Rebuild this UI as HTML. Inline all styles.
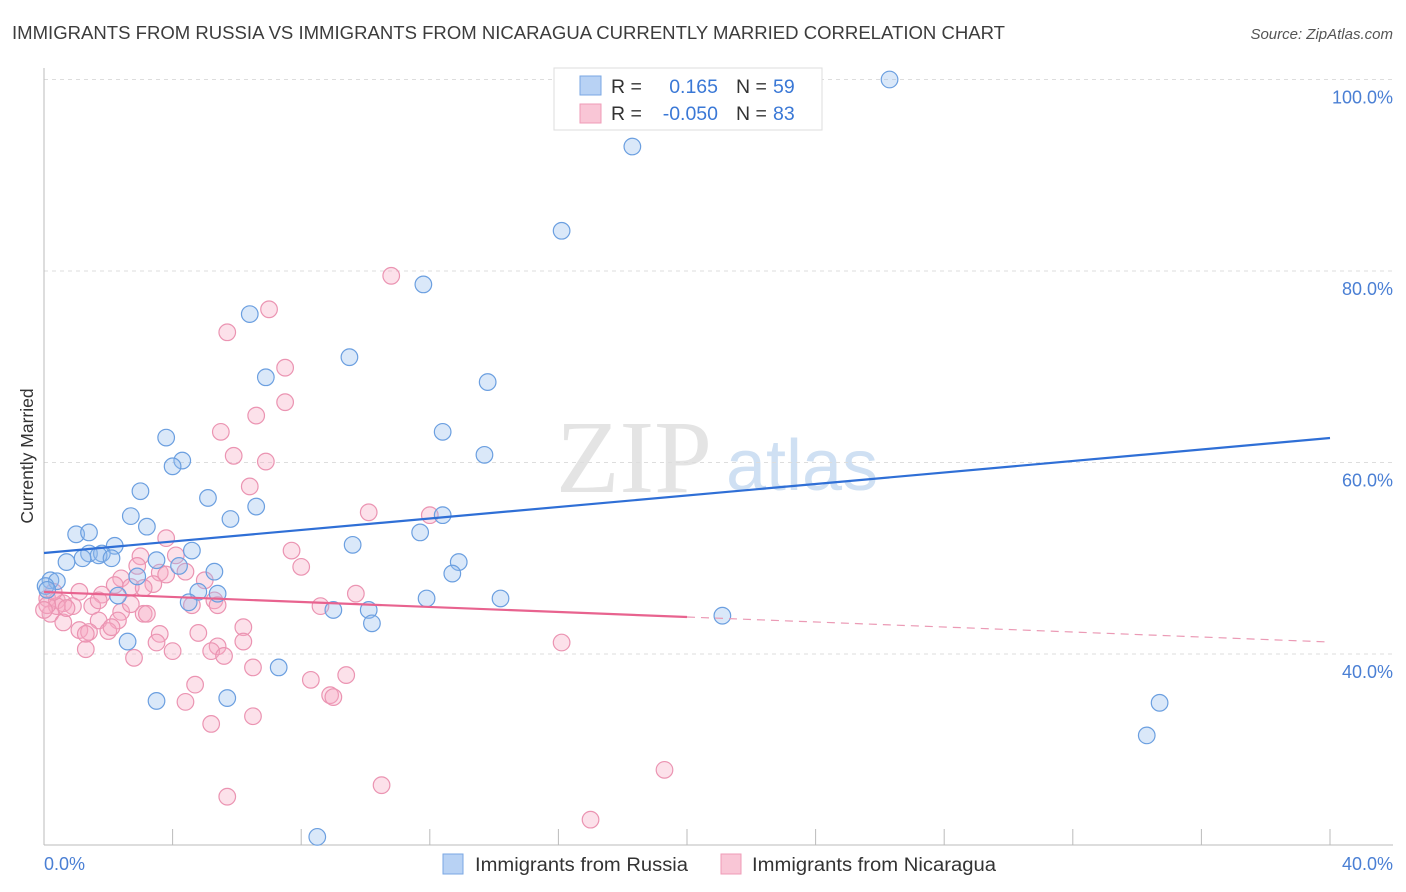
<!DOCTYPE html>
<html><head><meta charset="utf-8"><style>
body{margin:0;background:#fff;font-family:"Liberation Sans",sans-serif}
svg{display:block}
</style></head><body>
<svg id="chart" width="1406" height="892" xmlns="http://www.w3.org/2000/svg">
<text x="12" y="39" font-size="18.6" fill="#3c3c3c" textLength="993" lengthAdjust="spacingAndGlyphs">IMMIGRANTS FROM RUSSIA VS IMMIGRANTS FROM NICARAGUA CURRENTLY MARRIED CORRELATION CHART</text>
<text x="1393" y="39" font-size="15" font-style="italic" fill="#555" text-anchor="end">Source: ZipAtlas.com</text>
<g>
<text x="634" y="492" font-size="104" font-family="Liberation Serif,serif" fill="#e4e4e4" text-anchor="middle">ZIP</text>
<text x="802" y="490" font-size="72" fill="#cfe0f3" text-anchor="middle">atlas</text>
</g>
<g id="grid"></g>
<line x1="44" y1="68" x2="44" y2="845" stroke="#bbb"/>
<line x1="44" y1="845" x2="1393" y2="845" stroke="#bbb"/>
<g id="xticks"></g>
<text transform="translate(33,456) rotate(-90)" font-size="17.5" fill="#333" text-anchor="middle">Currently Married</text>
<text x="44" y="870" font-size="18" fill="#4a7fd4">0.0%</text>
<text x="1393" y="870" font-size="18" fill="#4a7fd4" text-anchor="end">40.0%</text>
<g id="pinkpts"></g>
<g id="bluepts"></g>
<g id="lines"></g>
<g>
<rect x="554" y="68" width="268" height="62" fill="#fff" stroke="#ddd"/>
<rect x="580" y="76" width="21" height="19" fill="#b8d2f4" stroke="#7aa7e3"/>
<rect x="580" y="104" width="21" height="19" fill="#f9c6d6" stroke="#ef9bb7"/>
<text x="611" y="93" font-size="19.5" fill="#333">R =</text>
<text x="718" y="93" font-size="19.5" fill="#3a78d6" text-anchor="end">0.165</text>
<text x="736" y="93" font-size="19.5" fill="#333">N =</text>
<text x="773" y="93" font-size="19.5" fill="#3a78d6">59</text>
<text x="611" y="120" font-size="19.5" fill="#333">R =</text>
<text x="718" y="120" font-size="19.5" fill="#3a78d6" text-anchor="end">-0.050</text>
<text x="736" y="120" font-size="19.5" fill="#333">N =</text>
<text x="773" y="120" font-size="19.5" fill="#3a78d6">83</text>
</g>
<g>
<rect x="443" y="854" width="20" height="20" fill="#b8d2f4" stroke="#7aa7e3"/>
<text x="475" y="871" font-size="19" fill="#333" textLength="213" lengthAdjust="spacingAndGlyphs">Immigrants from Russia</text>
<rect x="721" y="854" width="20" height="20" fill="#f9c6d6" stroke="#ef9bb7"/>
<text x="752" y="871" font-size="19" fill="#333" textLength="244" lengthAdjust="spacingAndGlyphs">Immigrants from Nicaragua</text>
</g>
</svg>
<script>
const yTicks=[40,60,80,100];
const xTickVals=[0,4,8,12,16,20,24,28,32,36,40];
const blueX=[26.3,18.3,16.1,11.8,6.4,9.5,6.9,13.8,12.4,3.8,13.7,4.3,4.0,3.0,5.1,6.6,2.7,5.8,12.4,3.2,1.0,1.4,11.7,9.6,2.2,1.4,1.8,4.6,1.7,2.1,1.2,0.7,3.5,12.9,12.7,2.9,5.3,4.2,0.2,0.4,0.05,0.1,4.8,5.4,2.3,4.5,11.9,14.2,9.0,10.1,21.1,10.2,2.6,7.3,3.5,5.7,34.7,34.3,8.5];
const blueY=[100,93.0,84.2,78.6,75.5,71.0,68.9,68.4,63.2,62.6,60.8,60.2,59.6,57.0,56.3,55.4,54.4,54.1,54.5,53.3,52.5,52.7,52.7,51.4,51.3,50.5,50.5,50.8,50.3,50.0,50.0,49.6,49.8,49.6,48.4,48.1,48.6,49.2,47.7,47.6,47.1,46.7,46.5,46.3,46.1,45.4,45.8,45.8,44.6,44.6,44.0,43.2,41.3,38.6,35.1,35.4,34.9,31.5,20.9];
const pinkX=[10.8,7.0,5.7,7.5,7.5,6.6,5.5,5.9,6.9,6.4,10.1,12.0,3.8,7.7,3.0,4.1,8.0,2.4,3.6,2.9,4.4,5.0,3.4,2.2,2.7,3.1,1.1,1.8,0.1,0.4,0.6,0.9,1.5,2.4,3.1,4.6,5.3,5.4,8.6,9.7,0.2,0.6,1.7,2.3,3.2,1.1,1.4,2.0,2.1,6.2,4.8,3.6,1.3,3.5,6.2,5.4,5.2,4.0,5.6,1.3,2.8,6.5,8.3,9.4,16.1,4.7,8.9,9.0,4.4,6.5,5.2,19.3,10.5,5.7,17.0,0.4,0.1,0.0,0.3,0.7,2.7,3.8,1.7];
const pinkY=[79.5,76.0,73.6,69.9,66.3,64.9,63.2,60.7,60.1,57.5,54.8,54.5,52.1,50.8,50.2,50.3,49.1,47.9,48.5,49.2,48.6,47.7,47.3,47.2,47.0,46.9,46.5,46.2,45.8,45.6,45.3,45.0,45.0,44.4,44.2,45.1,45.6,45.1,45.0,46.3,44.2,43.3,43.5,43.5,44.2,42.5,42.3,42.4,42.8,42.8,42.2,42.1,42.1,41.2,41.3,40.8,40.3,40.3,39.8,40.5,39.6,38.6,37.3,37.8,41.2,36.8,35.7,35.5,35.0,33.5,32.7,27.9,26.3,25.1,22.7,45.0,45.1,44.6,46.5,44.8,45.2,48.3,45.6];
const blueTrend=[50.55,62.56];
const pinkTrend=[46.48,41.25];
const pinkSolidEnd=20;

const NS='http://www.w3.org/2000/svg';
const sx=v=>44+v*(1286/40);
const sy=v=>79.5+(100-v)*9.575;
function mk(tag,attrs,parent){const e=document.createElementNS(NS,tag);for(const k in attrs)e.setAttribute(k,attrs[k]);parent.appendChild(e);return e;}
const grid=document.getElementById('grid');
yTicks.forEach(t=>{
  const l=mk('line',{x1:44,x2:1393,y1:sy(t),y2:sy(t),stroke:'#ddd','stroke-dasharray':'4,4'},grid);
  
  
  const tx=mk('text',{x:1393,y:sy(t)+24,'font-size':18,fill:'#4a7fd4','text-anchor':'end'},grid);
  tx.textContent=t.toFixed(1)+'%';
  
  
});
const xt=document.getElementById('xticks');
xTickVals.forEach(t=>{
  const l=mk('line',{x1:sx(t),x2:sx(t),y1:829,y2:845,stroke:'#bbb'},xt);
  
  
});
function pts(xs,ys,gid,fill,stroke,name){
  const g=document.getElementById(gid);
  xs.forEach((x,i)=>{
    const c=mk('circle',{cx:sx(x),cy:sy(ys[i]),r:8.3,fill:fill,stroke:stroke,'stroke-width':1.2},g);
    
    
  });
}
pts(pinkX,pinkY,'pinkpts','rgba(246,170,196,0.35)','#eb94b2','nicaragua-point');
pts(blueX,blueY,'bluepts','rgba(150,190,238,0.35)','#6b9fe0','russia-point');
const lg=document.getElementById('lines');
const bl=mk('line',{x1:sx(0),y1:sy(blueTrend[0]),x2:sx(40),y2:sy(blueTrend[1]),stroke:'#2f6fd6','stroke-width':2.2},lg);


const pAt=x=>pinkTrend[0]+(pinkTrend[1]-pinkTrend[0])*x/40;
const pl=mk('line',{x1:sx(0),y1:sy(pAt(0)),x2:sx(pinkSolidEnd),y2:sy(pAt(pinkSolidEnd)),stroke:'#e8638f','stroke-width':2.2},lg);


const pd=mk('line',{x1:sx(pinkSolidEnd),y1:sy(pAt(pinkSolidEnd)),x2:sx(40),y2:sy(pAt(40)),stroke:'#eb9ab5','stroke-width':1.2,'stroke-dasharray':'8,6'},lg);


</script>
</body></html>
